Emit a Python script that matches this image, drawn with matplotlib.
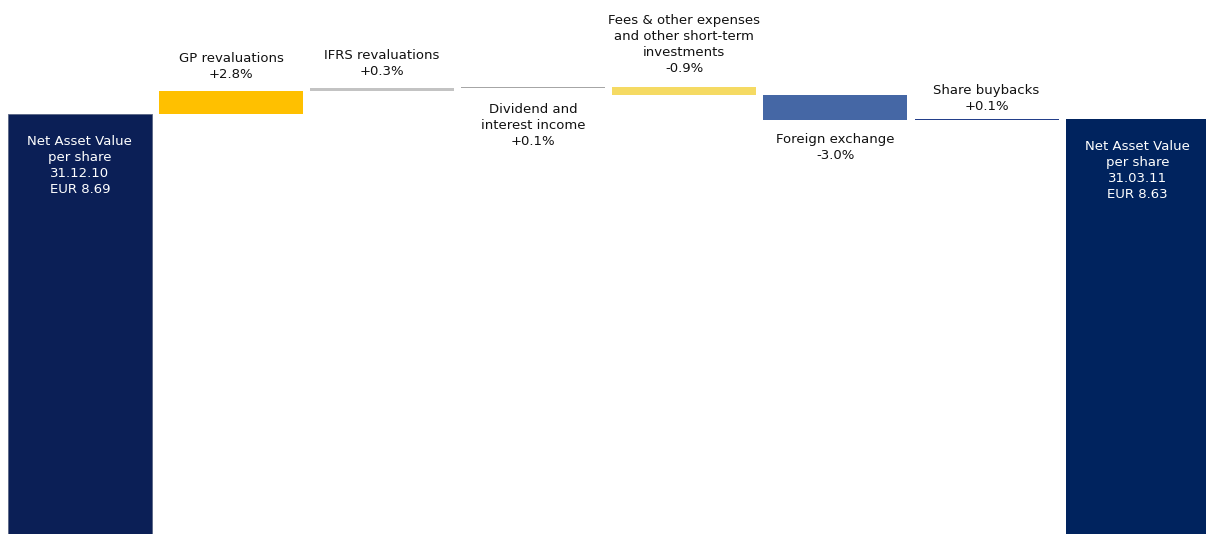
import numpy as np
import matplotlib
matplotlib.use("Agg")
import matplotlib.pyplot as plt

# NAV per share bridge, Q1 2011
start_nav = 8.69
end_nav_label = 8.63
steps = ["GP revaluations", "IFRS revaluations", "Dividend and\ninterest income",
         "Fees & other expenses\nand other short-term\ninvestments",
         "Foreign exchange", "Share buybacks"]
step_pct = [2.8, 0.3, 0.1, -0.9, -3.0, 0.1]
step_colors = ["#ffc000", "#c3c3c3", "#a6a6a6", "#f5da63", "#4567a5", "#233f8a"]
start_label = "Net Asset Value\nper share\n31.12.10\nEUR 8.69"
end_label = "Net Asset Value\nper share\n31.03.11\nEUR 8.63"

# label above (True) or below (False) the step, plus gap in points
label_above = [True, True, False, True, False, True]
label_gap = [7, 7, 11, 9, 9, 4]

fig = plt.figure(figsize=(12.06, 5.34), dpi=100)
ax = fig.add_axes([0, 0, 1, 1])

width = 0.953
levels = start_nav * (1 + np.cumsum([0] + step_pct) / 100.0)
final = levels[-1]

# first and last bars
ax.bar(0, start_nav, width=width, color="#0b1f56", edgecolor="#5a6684", linewidth=0.6)
ax.bar(len(steps) + 1, final, width=width, color="#00235e", linewidth=0)
txt = dict(ha="center", va="top", fontsize=9.5, color="white", linespacing=1.3)
ax.annotate(start_label, xy=(0, start_nav), xytext=(0, -15), textcoords="offset points", **txt)
ax.annotate(end_label, xy=(len(steps) + 1, final), xytext=(0, -15), textcoords="offset points", **txt)

for i, (name, pct) in enumerate(zip(steps, step_pct)):
    x = i + 1
    lo, hi = sorted([levels[i], levels[i + 1]])
    h = max(hi - lo, 0.012)
    ax.bar(x, h, bottom=lo, width=width, color=step_colors[i], linewidth=0)
    s = f"{name}\n{pct:+.1f}%"
    if label_above[i]:
        ax.annotate(s, xy=(x, lo + h), xytext=(0, label_gap[i]), textcoords="offset points",
                    ha="center", va="bottom", fontsize=9.5, color="#111111", linespacing=1.3)
    else:
        ax.annotate(s, xy=(x, lo), xytext=(0, -label_gap[i]), textcoords="offset points",
                    ha="center", va="top", fontsize=9.5, color="#111111", linespacing=1.3)

ax.set_xlim(-0.529, 7.452)
ax.set_ylim(4.35, 9.87)
ax.axis("off")

fig.savefig("out.png", dpi=100)
